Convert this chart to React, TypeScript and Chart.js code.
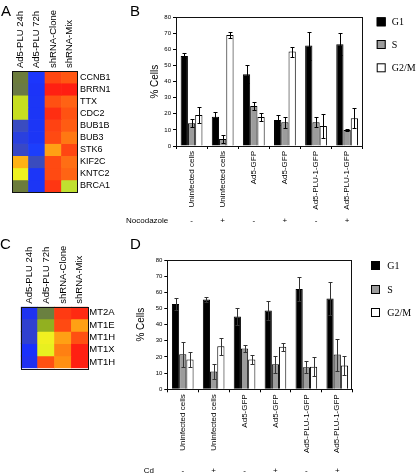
import React, { useEffect, useRef } from "react";
import { Chart, registerables } from "chart.js";

Chart.register(...registerables);

const SANS = "'Liberation Sans', Arial, Helvetica, sans-serif";
const SERIF = "'Liberation Serif', 'Times New Roman', serif";

// ---------- Panel A heatmap ----------
const heatColumns = ["Ad5-PLU 24h", "Ad5-PLU 72h", "shRNA-Clone", "shRNA-Mix"];
const heatRowsA = ["CCNB1", "BRRN1", "TTX", "CDC2", "BUB1B", "BUB3", "STK6", "KIF2C", "KNTC2", "BRCA1"];
const heatColorsA = [
  ["#6c7c3c", "#1c36fc", "#ff4612", "#ff5612"],
  ["#6a7a44", "#1c34f8", "#ff2012", "#ff1e12"],
  ["#c6de20", "#1c36f6", "#ff5012", "#ff6214"],
  ["#c6de20", "#1c36f6", "#ff2e12", "#ff5212"],
  ["#3a4cc0", "#1c36f6", "#ff4212", "#ff5c12"],
  ["#2a40de", "#1c36f6", "#ff4a12", "#ff7812"],
  ["#3848c6", "#1c3efc", "#ffa014", "#ff4612"],
  ["#ffb214", "#3a4cbe", "#ff4a12", "#ff6e14"],
  ["#eef220", "#1c36f8", "#ff4a12", "#ff6414"],
  ["#6c7c3c", "#1c36f6", "#ff3612", "#c0e030"],
];

// ---------- Panel C heatmap ----------
const heatRowsC = ["MT2A", "MT1E", "MT1H", "MT1X", "MT1H"];
const heatColorsC = [
  ["#1e32f0", "#6a8040", "#ff3a12", "#ff2a12"],
  ["#3040d0", "#92b020", "#ff4a12", "#ffa014"],
  ["#3040d0", "#f0f020", "#ffa014", "#ff5012"],
  ["#1a30fc", "#e8f020", "#ff8012", "#ff2012"],
  ["#2030f0", "#ff5012", "#ff9012", "#ff2012"],
];

// ---------- Bar charts ----------
const cellCategories = ["Uninfected cells", "Uninfected cells", "Ad5-GFP", "Ad5-GFP", "Ad5-PLU-1-GFP", "Ad5-PLU-1-GFP"];
const nocodazoleSigns = ["-", "+", "-", "+", "-", "+"];
const cdSigns = ["-", "+", "-", "+", "-", "+"];
const phaseNames = ["G1", "S", "G2/M"];
const phaseColors = ["#000000", "#9c9c9c", "#ffffff"];
const yTicksMax = 80;

// Panel B (Nocodazole)
const g1B = [56, 18.2, 44.6, 16.2, 62.4, 63.2];
const g1ErrB = [1.6, 2.7, 5.6, 3.1, 8.7, 6.8];
const sB = [14.1, 4.4, 24.9, 14.7, 14.7, 9.9];
const sErrB = [2.5, 2.4, 2.5, 3.5, 3.1, 0.7];
const g2mB = [19.3, 69, 18, 58.7, 12.4, 17.2];
const g2mErrB = [5.2, 2, 2.7, 3.1, 7.3, 6.2];

// Panel D (Cd)
const g1D = [52.7, 55.6, 45.1, 48.8, 62, 56.2];
const g1ErrD = [3.5, 1.5, 5.3, 6, 7.3, 10.4];
const sD = [21.7, 11, 25.2, 15.5, 13.6, 21.5];
const sErrD = [7.7, 4.9, 2.1, 5.3, 3.8, 9.9];
const g2mD = [18.4, 26.7, 18.4, 26.3, 14, 14.7];
const g2mErrD = [4.8, 5.3, 2.7, 2.4, 6, 5.8];

const framePlugin = {
  id: "frame",
  afterDraw(chart: any) {
    const { ctx, chartArea: a } = chart;
    ctx.save();
    ctx.strokeStyle = "#111";
    ctx.lineWidth = 1;
    ctx.strokeRect(Math.round(a.left) + 0.5, Math.round(a.top) + 0.5, Math.round(a.right - a.left) - 1, Math.round(a.bottom - a.top));
    ctx.restore();
  },
};

// vertical column labels above a heatmap, placed at the category scale's pixels
const columnLabelPlugin = {
  id: "columnLabels",
  afterDraw(chart: any, _args: any, opts: any) {
    const { ctx, chartArea: a } = chart;
    const x = chart.scales.x;
    ctx.save();
    ctx.fillStyle = "#000";
    ctx.font = `${opts.size}px ${SANS}`;
    ctx.textAlign = "left";
    ctx.textBaseline = "middle";
    (chart.data.labels as string[]).forEach((lab, i) => {
      ctx.save();
      ctx.translate(x.getPixelForValue(i) + opts.dx, a.top - opts.gap);
      ctx.rotate(-Math.PI / 2);
      ctx.fillText(lab, 0, 0);
      ctx.restore();
    });
    ctx.restore();
  },
};

const errorBarPlugin = {
  id: "errorBars",
  afterDatasetsDraw(chart: any, _args: any, opts: any) {
    const { ctx } = chart;
    const y = chart.scales.y;
    ctx.save();
    ctx.strokeStyle = opts.color || "#000";
    ctx.lineWidth = 1;
    chart.data.datasets.forEach((ds: any, di: number) => {
      const meta = chart.getDatasetMeta(di);
      meta.data.forEach((bar: any, i: number) => {
        const v = ds.data[i];
        const e = ds.errors[i];
        const x = Math.round(bar.x) + 0.5;
        const yt = Math.round(y.getPixelForValue(v + e)) + 0.5;
        const yb = Math.round(y.getPixelForValue(v - e)) + 0.5;
        ctx.beginPath();
        ctx.moveTo(x, yt);
        ctx.lineTo(x, yb);
        ctx.moveTo(x - 2, yt);
        ctx.lineTo(x + 2, yt);
        ctx.moveTo(x - 2, yb);
        ctx.lineTo(x + 2, yb);
        ctx.stroke();
      });
    });
    ctx.restore();
  },
};

const annotatePlugin = {
  id: "annotate",
  afterDraw(chart: any, _args: any, opts: any) {
    const { ctx } = chart;
    const x = chart.scales.x;
    ctx.save();
    // legend
    chart.data.datasets.forEach((ds: any, i: number) => {
      const top = opts.legendTops[i];
      ctx.fillStyle = ds.backgroundColor;
      ctx.fillRect(opts.legendX, top, 9, 9);
      ctx.strokeStyle = "#000";
      ctx.lineWidth = 1;
      ctx.strokeRect(opts.legendX + 0.5, top + 0.5, 8, 8);
      ctx.fillStyle = "#000";
      ctx.font = `10px ${SERIF}`;
      ctx.textAlign = "left";
      ctx.textBaseline = "middle";
      ctx.fillText(ds.label, opts.legendLabelX, top + 5);
    });
    // treatment row
    ctx.font = `8px ${SANS}`;
    ctx.fillStyle = "#000";
    ctx.textBaseline = "middle";
    ctx.textAlign = "right";
    ctx.fillText(opts.rowLabel, opts.rowLabelX, opts.rowY);
    ctx.textAlign = "center";
    opts.signs.forEach((s: string, i: number) => {
      ctx.fillText(s, x.getPixelForValue(i), opts.rowY);
    });
    ctx.restore();
  },
};

function heatmapConfig(rows: string[], colors: string[][], box: any): any {
  return {
    type: "bar",
    data: {
      labels: heatColumns,
      datasets: rows.map((r, i) => ({
        label: r,
        data: heatColumns.map(() => [i, i + 1]),
        backgroundColor: colors[i],
        borderWidth: 0,
        barPercentage: 1,
        categoryPercentage: 1,
      })),
    },
    options: {
      responsive: false,
      animation: false,
      events: [],
      layout: { padding: { left: box.left, top: box.top, right: 0, bottom: box.bottom } },
      plugins: {
        legend: { display: false },
        tooltip: { enabled: false },
        columnLabels: { size: box.colFont, gap: 3, dx: 0 },
      },
      scales: {
        x: {
          position: "top",
          stacked: true,
          grid: { display: false, drawTicks: false },
          border: { display: false },
          ticks: { display: false },
        },
        y: {
          position: "right",
          min: 0,
          max: rows.length,
          reverse: true,
          grid: { display: false, drawTicks: false },
          border: { display: false },
          afterBuildTicks: (s: any) => {
            s.ticks = rows.map((_, i) => ({ value: i + 0.5 }));
          },
          ticks: {
            autoSkip: false,
            padding: box.labelPad,
            color: "#000",
            font: { family: SANS, size: box.rowFont },
            callback: (_v: any, idx: number) => rows[idx],
          },
          afterFit: (s: any) => {
            s.width = box.yWidth;
          },
        },
      },
    },
    plugins: [framePlugin, columnLabelPlugin],
  };
}

function barConfig(series: number[][], errors: number[][], p: any): any {
  return {
    type: "bar",
    data: {
      labels: cellCategories,
      datasets: phaseNames.map((name, i) => ({
        label: name,
        data: series[i],
        errors: errors[i],
        backgroundColor: phaseColors[i],
        borderColor: "#000",
        borderWidth: 1,
        barPercentage: 1,
        categoryPercentage: 0.7,
      })),
    },
    options: {
      responsive: false,
      animation: false,
      events: [],
      layout: { padding: { left: p.padLeft, top: p.padTop, right: p.padRight, bottom: 0 } },
      plugins: {
        legend: { display: false },
        tooltip: { enabled: false },
        errorBars: { color: p.errColor },
        annotate: {
          legendX: p.legendX,
          legendTops: p.legendTops,
          legendLabelX: p.legendLabelX,
          rowLabel: p.rowLabel,
          rowLabelX: p.rowLabelX,
          rowY: p.rowY,
          signs: p.signs,
        },
      },
      scales: {
        x: {
          grid: { drawOnChartArea: false, offset: true, tickLength: 3, color: "#000" },
          border: { color: "#000" },
          ticks: {
            autoSkip: false,
            minRotation: 90,
            maxRotation: 90,
            padding: 2,
            color: "#000",
            font: { family: SANS, size: 8 },
          },
          afterFit: (s: any) => {
            s.height = p.xHeight;
          },
        },
        y: {
          min: 0,
          max: yTicksMax,
          grid: { drawOnChartArea: false, tickLength: 3, color: "#000" },
          border: { color: "#000" },
          ticks: { stepSize: 10, padding: 2, color: "#000", font: { family: SANS, size: 6 } },
          title: {
            display: true,
            text: "% Cells",
            color: "#000",
            font: { family: SANS, size: 10 },
            padding: { top: 4, bottom: 4 },
          },
          afterFit: (s: any) => {
            s.width = p.yWidth;
          },
        },
      },
    },
    plugins: [framePlugin, errorBarPlugin, annotatePlugin],
  };
}

const letterStyle = (left: number, top: number): React.CSSProperties => ({
  position: "absolute",
  left,
  top,
  fontFamily: SANS,
  fontSize: 15,
  lineHeight: "15px",
  color: "#000",
});

export default function App() {
  const aRef = useRef<HTMLCanvasElement>(null);
  const bRef = useRef<HTMLCanvasElement>(null);
  const cRef = useRef<HTMLCanvasElement>(null);
  const dRef = useRef<HTMLCanvasElement>(null);

  useEffect(() => {
    const charts: Chart[] = [];
    charts.push(
      new Chart(
        aRef.current as HTMLCanvasElement,
        heatmapConfig(heatRowsA, heatColorsA, { left: 12, top: 71, bottom: 8, yWidth: 47, labelPad: 2, rowFont: 9, colFont: 9.5 })
      )
    );
    charts.push(
      new Chart(
        cRef.current as HTMLCanvasElement,
        heatmapConfig(heatRowsC, heatColorsC, { left: 20.7, top: 74.7, bottom: 8.7, yWidth: 36.7, labelPad: 1, rowFont: 9.5, colFont: 9.5 })
      )
    );
    charts.push(
      new Chart(
        bRef.current as HTMLCanvasElement,
        barConfig([g1B, sB, g2mB], [g1ErrB, sErrB, g2mErrB], {
          padLeft: 50,
          padTop: 17.3,
          padRight: 53.3,
          yWidth: 31,
          xHeight: 86,
          errColor: "#000",
          legendX: 281.7,
          legendTops: [17.3, 40, 63.3],
          legendLabelX: 296.7,
          rowLabel: "Nocodazole",
          rowLabelX: 73.3,
          rowY: 221,
          signs: nocodazoleSigns,
        })
      )
    );
    charts.push(
      new Chart(
        dRef.current as HTMLCanvasElement,
        barConfig([g1D, sD, g2mD], [g1ErrD, sErrD, g2mErrD], {
          padLeft: 36,
          padTop: 25,
          padRight: 63.3,
          yWidth: 36.3,
          xHeight: 85.7,
          errColor: "#333",
          legendX: 276,
          legendTops: [26, 50, 73],
          legendLabelX: 292.3,
          rowLabel: "Cd",
          rowLabelX: 59,
          rowY: 236,
          signs: cdSigns,
        })
      )
    );
    return () => charts.forEach((c) => c.destroy());
  }, []);

  return (
    <div
      style={{
        position: "fixed",
        left: 0,
        top: 0,
        width: 416,
        height: 475,
        background: "#fff",
        overflow: "hidden",
      }}
    >
      <canvas ref={bRef} width={321} height={232} style={{ position: "absolute", left: 95, top: 0 }} />
      <canvas ref={dRef} width={321} height={240} style={{ position: "absolute", left: 95, top: 235 }} />
      <canvas ref={aRef} width={125} height={200} style={{ position: "absolute", left: 0, top: 0 }} />
      <canvas ref={cRef} width={125} height={145} style={{ position: "absolute", left: 0, top: 232 }} />
      <div style={letterStyle(1, 3.3)}>A</div>
      <div style={letterStyle(130, 3.3)}>B</div>
      <div style={letterStyle(0, 236.3)}>C</div>
      <div style={letterStyle(130, 236)}>D</div>
    </div>
  );
}
